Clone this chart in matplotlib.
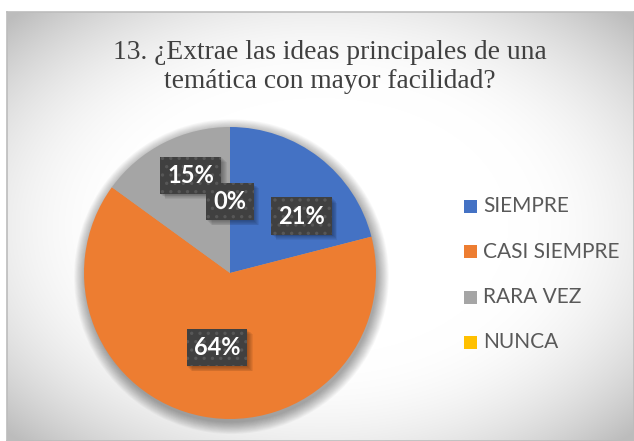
import numpy as np
import matplotlib
matplotlib.use("Agg")
import matplotlib.pyplot as plt
from matplotlib.patches import Rectangle, Circle

# datos
categorias = ["SIEMPRE", "CASI SIEMPRE", "RARA VEZ", "NUNCA"]
porcentajes = [21, 64, 15, 0]
colores = ["#4472C4", "#ED7D31", "#A5A5A5", "#FFC000"]
titulo = "13. ¿Extrae las ideas principales de una\ntemática con mayor facilidad?"

W, H = 634, 441
plt.rcParams["hatch.linewidth"] = 1.2


def px(x, y):
    # pixeles de la imagen -> fraccion de figura
    return x / W, 1 - y / H


fig = plt.figure(figsize=(W / 100, H / 100), dpi=100)
fig.patch.set_facecolor("white")

# fondo con degradado radial
x0, y0 = px(7, 441)
bg = fig.add_axes([x0, y0, 1 - x0, 1 - 12 / H - y0])
gx = np.linspace(-1, 1, 627)
gy = np.linspace(-1, 1, 429)
XX, YY = np.meshgrid(gx, gy)
r = np.sqrt(XX ** 2 + YY ** 2)
val = 1 - 0.42 * np.clip(r - 0.6, 0, None) ** 2
val = np.clip(val, 0.74, 1)
bg.imshow(np.dstack([val, val, val]), aspect="auto", extent=[0, 1, 0, 1])
bg.set_xticks([])
bg.set_yticks([])
for s in bg.spines.values():
    s.set_color("#bcbcbc")
    s.set_linewidth(1.2)

# texto cortado arriba (solo se ve el borde inferior)
fig.text(318 / W, 1 - 0.5 / H, "GRÁFICO N° 13", ha="center", va="baseline",
         fontsize=13, color="#595959", family="Liberation Serif")

# titulo
fig.text(330 / W, 1 - 67 / H, titulo, ha="center", va="center",
         fontsize=19.8, color="#404040", family="Liberation Serif",
         linespacing=1.2)

# pastel
cx, cy, R = 230, 273, 146
ax = fig.add_axes([(cx - R) / W, 1 - (cy + R) / H, 2 * R / W, 2 * R / H])
ax.axis("off")

# sombra suave de la torta
for k in range(14):
    ax.add_patch(Circle((0.01, -0.025), 1.0 + 0.006 * k, facecolor="black",
                        alpha=0.028, linewidth=0, zorder=0, clip_on=False))

ax.pie(porcentajes, colors=colores, startangle=90, counterclock=False,
       radius=1, wedgeprops=dict(linewidth=0, zorder=2))
ax.set_xlim(-1, 1)
ax.set_ylim(-1, 1)

# etiquetas de datos
pos_etiquetas = [(0.49, 0.39), (-0.09, -0.51), (-0.27, 0.67), (0.0, 0.49)]
orden = [2, 3, 0, 1]
textos = []
for i in orden:
    xx, yy = pos_etiquetas[i]
    t = ax.text(xx, yy, f"{porcentajes[i]}%", ha="center", va="center",
                fontsize=17, fontweight="bold", family="Lato", color="white",
                zorder=6 + i * 0.1,
                bbox=dict(boxstyle="square,pad=0.3", fc="#404040",
                          ec="#575757", lw=0, hatch=".."))
    textos.append((i, t))

# sombras difusas de las etiquetas (abajo a la derecha)
fig.canvas.draw()
inv = ax.transData.inverted()
for i, t in textos:
    bb = t.get_bbox_patch().get_window_extent()
    for d in range(1, 7):
        sx, sy = inv.transform((bb.x0 + d * 0.9, bb.y0 - d * 0.9))
        ex, ey = inv.transform((bb.x1 + d * 0.9, bb.y1 - d * 0.9))
        ax.add_patch(Rectangle((sx, sy), ex - sx, ey - sy, facecolor="black",
                               alpha=0.06, linewidth=0, zorder=5 + i * 0.1,
                               clip_on=False))

# leyenda
for i, cat in enumerate(categorias):
    yc = 206 + i * 45.5
    lx, ly = px(464, yc + 6.5)
    fig.add_artist(Rectangle((lx, ly), 13 / W, 13 / H, transform=fig.transFigure,
                             facecolor=colores[i], linewidth=0))
    tx, ty = px(483, yc)
    fig.text(tx, ty, cat, ha="left", va="center", fontsize=15,
             family="Lato", color="#595959")

fig.savefig("out.png", dpi=100)
